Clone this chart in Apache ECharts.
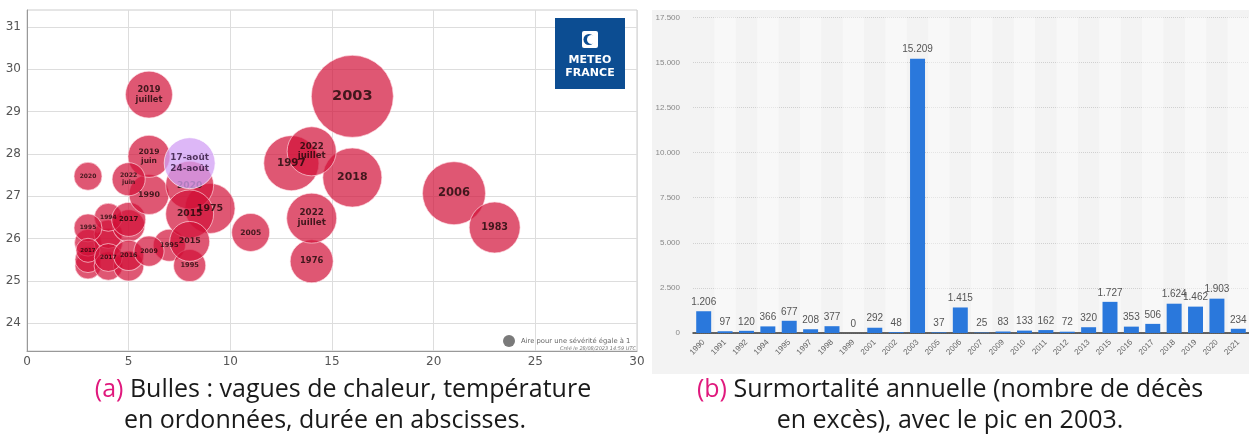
<!DOCTYPE html>
<html>
<head>
<meta charset="utf-8">
<script src="https://cdn.jsdelivr.net/npm/echarts@6/dist/echarts.min.js"></script>
<style>
  html, body { margin: 0; padding: 0; background: #fff; }
  #chart { width: 1249px; height: 437px; }
</style>
</head>
<body>
<div id="chart"></div>
<script>
// (a) vagues de chaleur : durée (jours), température (°C), sévérité (aire), libellé
var waveDuration = [3, 3, 3, 4, 4, 4, 5, 5, 4, 3, 3, 4, 5, 7, 6, 5, 8, 9, 6, 6, 5, 3, 8, 8, 8, 6, 11, 14, 14, 13, 16, 14, 16, 21, 23];
var waveTemp = [25.35, 25.5, 25.9, 25.35, 25.9, 26.1, 25.35, 26.3, 26.5, 26.25, 25.72, 25.55, 25.6, 25.84, 25.7, 26.45, 25.36, 26.71, 27.04, 27.94, 27.4, 27.47, 27.26, 26.58, 25.93, 29.4, 26.14, 25.46, 26.48, 27.78, 27.44, 28.06, 29.36, 27.07, 26.26];
var waveSeverity = [4.3, 4.3, 4.6, 5.2, 5.2, 5.2, 5.8, 6.6, 5.0, 5.0, 3.7, 5.0, 5.8, 6.6, 5.8, 7.4, 6.6, 16, 10.2, 11.3, 7.0, 5.0, 14.7, 14.7, 10.2, 14.1, 9.2, 11.8, 16, 19.4, 22.3, 15.4, 43, 25.4, 16.6];
var waveLabel = ['', '', '', '', '', '', '', '', '1994', '1995', '2017', '2017', '2016', '1995', '2009', '2017', '1995', '1975', '1990', '2019\njuin', '2022\njuin', '2020', '2020', '2015', '2015', '2019\njuillet', '2005', '1976', '2022\njuillet', '1997', '2018', '2022\njuillet', '2003', '2006', '1983'];

// vague en cours (mise en évidence)
var currentDuration = [8];
var currentTemp = [27.78];
var currentSeverity = [16.6];
var currentLabel = ['17-août\n24-août'];

var tempTicks = [24, 25, 26, 27, 28, 29, 30, 31];

// (b) surmortalité annuelle
var years = ['1990', '1991', '1992', '1994', '1995', '1997', '1998', '1999', '2001', '2002', '2003', '2005', '2006', '2007', '2009', '2010', '2011', '2012', '2013', '2015', '2016', '2017', '2018', '2019', '2020', '2021'];
var excessDeaths = [1206, 97, 120, 366, 677, 208, 377, 0, 292, 48, 15209, 37, 1415, 25, 83, 133, 162, 72, 320, 1727, 353, 506, 1624, 1462, 1903, 234];

var UNIT = 12.5; // diamètre (px) d'une bulle de sévérité 1

function dotThousands(v) {
  return String(v).replace(/\B(?=(\d{3})+(?!\d))/g, '.');
}

function bubbleItems(xs, ys, sev, labels) {
  return xs.map(function (x, i) {
    var d = UNIT * Math.sqrt(sev[i]);
    var fs = 1.5 + 0.16 * d;
    if (labels[i].indexOf('\n') >= 0) fs = fs * 0.92;
    return {
      value: [x, ys[i], sev[i]],
      name: labels[i],
      label: { fontSize: Math.max(5.5, fs), lineHeight: Math.max(5.5, fs) * 1.15 }
    };
  });
}

var chart = echarts.init(document.getElementById('chart'));

var capFont = '25px "Open Sans"';

var option = {
  animation: false,
  backgroundColor: '#ffffff',
  grid: [
    { left: 27, top: 10, width: 610, height: 341, show: true, borderColor: '#cccccc', borderWidth: 1, backgroundColor: '#ffffff' },
    { left: 693, top: 17.3, width: 556, height: 315.7 }
  ],
  xAxis: [
    {
      gridIndex: 0, type: 'value', min: 0, max: 30, interval: 5,
      axisLine: { lineStyle: { color: '#999999' } },
      axisTick: { show: false },
      axisLabel: { color: '#555555', fontSize: 12, fontFamily: 'DejaVu Sans', margin: 5 },
      splitLine: { lineStyle: { color: '#dddddd' } }
    },
    {
      gridIndex: 1, type: 'category', data: years,
      axisLine: { lineStyle: { color: '#333333', width: 1.5 } },
      axisTick: { show: false },
      axisLabel: { rotate: 45, fontSize: 8, color: '#666666', fontFamily: 'Liberation Sans', margin: 8, interval: 0 },
      splitArea: { show: true, areaStyle: { color: ['rgba(0,0,0,0)', 'rgba(255,255,255,0.45)'] } }
    }
  ],
  yAxis: [
    {
      gridIndex: 0, type: 'value', min: 23.34, max: 31.4,
      axisLine: { show: true, lineStyle: { color: '#999999' } },
      axisTick: { show: false, customValues: tempTicks },
      axisLabel: { color: '#555555', fontSize: 12, fontFamily: 'DejaVu Sans', margin: 6, customValues: tempTicks },
      splitLine: { lineStyle: { color: '#dddddd' } }
    },
    {
      gridIndex: 1, type: 'value', min: 0, max: 17500, interval: 2500,
      axisLine: { show: false },
      axisTick: { show: false },
      axisLabel: { color: '#888888', fontSize: 8, fontFamily: 'Liberation Sans', margin: 13, formatter: dotThousands },
      splitLine: { lineStyle: { color: '#d0d0d0', type: [1, 1] } }
    }
  ],
  series: [
    {
      type: 'scatter', xAxisIndex: 0, yAxisIndex: 0,
      data: bubbleItems(waveDuration, waveTemp, waveSeverity, waveLabel),
      symbolSize: function (v) { return UNIT * Math.sqrt(v[2]); },
      itemStyle: { color: 'rgba(210, 15, 55, 0.88)', borderColor: 'rgba(255, 225, 232, 0.8)', borderWidth: 1 },
      label: {
        show: true, position: 'inside', formatter: '{b}',
        color: '#1a0808', fontWeight: 'bold', fontFamily: 'DejaVu Sans'
      },
      z: 3
    },
    {
      type: 'scatter', xAxisIndex: 0, yAxisIndex: 0,
      data: bubbleItems(currentDuration, currentTemp, currentSeverity, currentLabel),
      symbolSize: function (v) { return UNIT * Math.sqrt(v[2]); },
      itemStyle: { color: 'rgba(210, 160, 245, 0.94)', borderColor: 'rgba(255, 255, 255, 0.8)', borderWidth: 1 },
      label: {
        show: true, position: 'inside', formatter: '{b}',
        color: '#2a1035', fontWeight: 'bold', fontFamily: 'DejaVu Sans', fontSize: 9.5, lineHeight: 12
      },
      z: 4
    },
    {
      type: 'bar', xAxisIndex: 1, yAxisIndex: 1,
      data: excessDeaths,
      barWidth: '70%',
      itemStyle: { color: '#2a78dc' },
      label: {
        show: true, position: 'top', distance: 4, fontSize: 10, color: '#555555',
        fontFamily: 'Liberation Sans', formatter: function (p) { return dotThousands(p.value); }
      }
    }
  ],
  graphic: [
    // fond du panneau (b)
    { type: 'rect', z: -10, shape: { x: 652, y: 10, width: 597, height: 364 }, style: { fill: '#f3f3f3' } },
    // logo Météo-France
    { type: 'rect', z: 10, shape: { x: 555, y: 18, width: 70, height: 71 }, style: { fill: '#0c4d92' } },
    { type: 'rect', z: 11, shape: { x: 582, y: 31, width: 16, height: 17, r: 2 }, style: { fill: '#ffffff' } },
    { type: 'circle', z: 12, shape: { cx: 589, cy: 39.5, r: 5.5 }, style: { fill: '#0c4d92' } },
    { type: 'circle', z: 13, shape: { cx: 591.5, cy: 39.5, r: 4.5 }, style: { fill: '#ffffff' } },
    { type: 'text', z: 11, style: { x: 590, y: 60, text: 'METEO', fill: '#ffffff', font: 'bold 11px "DejaVu Sans"', align: 'center', verticalAlign: 'middle' } },
    { type: 'text', z: 11, style: { x: 590, y: 73, text: 'FRANCE', fill: '#ffffff', font: 'bold 11px "DejaVu Sans"', align: 'center', verticalAlign: 'middle' } },
    // légende des aires
    { type: 'circle', z: 10, shape: { cx: 509, cy: 341, r: 6 }, style: { fill: '#7a7a7a' } },
    { type: 'text', z: 10, style: { x: 521, y: 341, text: 'Aire pour une sévérité égale à 1', fill: '#666666', font: '6.8px "DejaVu Sans"', verticalAlign: 'middle' } },
    { type: 'text', z: 10, style: { x: 636, y: 348.5, text: 'Créé le 28/08/2023 14:59 UTC', fill: '#777777', font: 'italic 5px "DejaVu Sans"', align: 'right', verticalAlign: 'middle' } },
    // légendes des sous-figures
    {
      type: 'text', z: 10,
      style: {
        x: 343, y: 390, align: 'center', verticalAlign: 'middle',
        text: '{p|(a)} Bulles : vagues de chaleur, température',
        fill: '#1a1a1a', font: capFont,
        rich: { p: { fill: '#e0197d', font: capFont } }
      }
    },
    { type: 'text', z: 10, style: { x: 325, y: 421, align: 'center', verticalAlign: 'middle', text: 'en ordonnées, durée en abscisses.', fill: '#1a1a1a', font: capFont } },
    {
      type: 'text', z: 10,
      style: {
        x: 950, y: 390, align: 'center', verticalAlign: 'middle',
        text: '{p|(b)} Surmortalité annuelle (nombre de décès',
        fill: '#1a1a1a', font: capFont,
        rich: { p: { fill: '#e0197d', font: capFont } }
      }
    },
    { type: 'text', z: 10, style: { x: 950, y: 421, align: 'center', verticalAlign: 'middle', text: 'en excès), avec le pic en 2003.', fill: '#1a1a1a', font: capFont } }
  ]
};

chart.setOption(option);
</script>
</body>
</html>
